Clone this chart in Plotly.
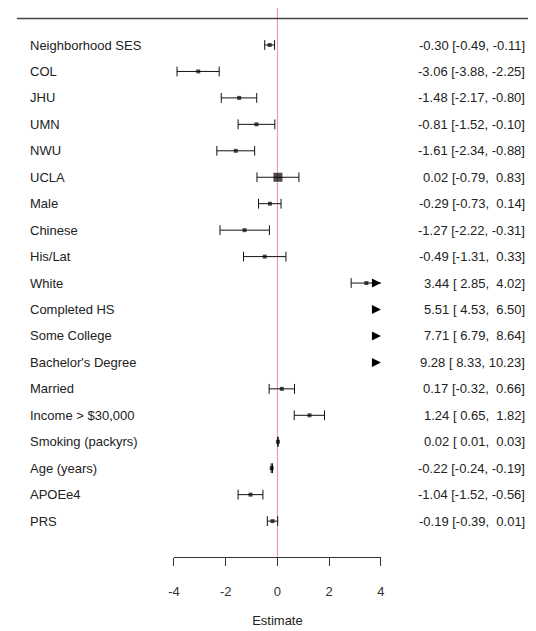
import plotly.graph_objects as go

# ---- data ----
labels = ["Neighborhood SES", "COL", "JHU", "UMN", "NWU", "UCLA", "Male", "Chinese",
          "His/Lat", "White", "Completed HS", "Some College", "Bachelor's Degree",
          "Married", "Income > $30,000", "Smoking (packyrs)", "Age (years)", "APOEe4", "PRS"]
est = [-0.30, -3.06, -1.48, -0.81, -1.61, 0.02, -0.29, -1.27, -0.49, 3.44,
       5.51, 7.71, 9.28, 0.17, 1.24, 0.02, -0.22, -1.04, -0.19]
ci_lo = [-0.49, -3.88, -2.17, -1.52, -2.34, -0.79, -0.73, -2.22, -1.31, 2.85,
         4.53, 6.79, 8.33, -0.32, 0.65, 0.01, -0.24, -1.52, -0.39]
ci_hi = [-0.11, -2.25, -0.80, -0.10, -0.88, 0.83, 0.14, -0.31, 0.33, 4.02,
         6.50, 8.64, 10.23, 0.66, 1.82, 0.03, -0.19, -0.56, 0.01]
x_ticks = [-4, -2, 0, 2, 4]
x_lim = [-4, 4]

# ---- styling ----
box_size = [4] * len(labels)
box_size[5] = 9
FONT = "Liberation Sans, Arial, sans-serif"
TXT = "#222222"
OFF = 8                     # page body margin
W, H = 536 - OFF, 631 - OFF
row0_px, row_gap_px = 45 - OFF, 26.45
axis_px = 557 - OFF

rows = list(range(len(labels)))
y_top = (0 - row0_px) / row_gap_px
y_bot = (axis_px - row0_px) / row_gap_px

fig = go.Figure()

seg_x, seg_y = [], []
cap_x, cap_y = [], []
arr_x, arr_y = [], []
pt_x, pt_y, pt_s = [], [], []
for i in rows:
    lo, hi = ci_lo[i], ci_hi[i]
    if lo > x_lim[1]:
        arr_x.append(x_lim[1]); arr_y.append(i)
        continue
    a, b = max(lo, x_lim[0]), min(hi, x_lim[1])
    seg_x += [a, b, None]; seg_y += [i, i, None]
    if lo >= x_lim[0]:
        cap_x.append(lo); cap_y.append(i)
    if hi <= x_lim[1]:
        cap_x.append(hi); cap_y.append(i)
    else:
        arr_x.append(x_lim[1]); arr_y.append(i)
    if x_lim[0] <= est[i] <= x_lim[1]:
        pt_x.append(est[i]); pt_y.append(i); pt_s.append(box_size[i])

fig.add_trace(go.Scatter(x=seg_x, y=seg_y, mode="lines",
                         line=dict(color="#111", width=1), hoverinfo="skip"))
fig.add_trace(go.Scatter(x=cap_x, y=cap_y, mode="markers",
                         marker=dict(symbol="line-ns-open", size=7, color="#111",
                                     line=dict(color="#111", width=1)), hoverinfo="skip"))
fig.add_trace(go.Scatter(x=pt_x, y=pt_y, mode="markers",
                         marker=dict(symbol="square", size=pt_s, color="#000",
                                     line=dict(width=0))))
fig.add_trace(go.Scatter(x=arr_x, y=arr_y, mode="markers",
                         marker=dict(symbol="arrow-right", size=9, color="#000",
                                     line=dict(width=0)), hoverinfo="skip"))

fig.add_shape(type="line", xref="x", yref="y", x0=0, x1=0, y0=-1.55, y1=y_bot,
              line=dict(color="#e88f9d", width=1), layer="below")
fig.add_shape(type="line", xref="paper", yref="y", x0=3 / W, x1=1, y0=-1, y1=-1,
              line=dict(color="#444", width=1.6))

def fmt(v):
    return f"{v:5.2f}".replace(" ", "\u00a0")

for i in rows:
    fig.add_annotation(xref="paper", yref="y", x=(22 - OFF) / W, y=i, text=labels[i],
                       xanchor="left", yanchor="middle", showarrow=False,
                       font=dict(family=FONT, size=13, color=TXT))
    txt = f"{est[i]:.2f} [{fmt(ci_lo[i])},\u00a0{fmt(ci_hi[i])}]"
    fig.add_annotation(xref="paper", yref="y", x=(531 - OFF) / W, y=i, text=txt,
                       xanchor="right", yanchor="middle", showarrow=False,
                       font=dict(family=FONT, size=13, color=TXT))

fig.update_layout(
    width=W, height=H, margin=dict(l=0, r=0, t=0, b=0),
    paper_bgcolor="white", plot_bgcolor="white", showlegend=False,
    font=dict(family=FONT, size=13, color=TXT),
    xaxis=dict(domain=[(171 - OFF) / W, (382 - OFF) / W], range=x_lim, tickvals=x_ticks,
               ticktext=[str(t) for t in x_ticks],
               showgrid=False, zeroline=False, showline=True, linecolor="#333",
               linewidth=1, ticks="outside", ticklen=8, tickcolor="#333",
               ticklabelstandoff=14, tickfont=dict(size=13, color="#333"),
               title=dict(text="Estimate", standoff=18, font=dict(size=13))),
    yaxis=dict(domain=[(H - axis_px) / H, 1], range=[y_bot, y_top], visible=False,
               showgrid=False, zeroline=False),
)

fig.write_html("out.html")
